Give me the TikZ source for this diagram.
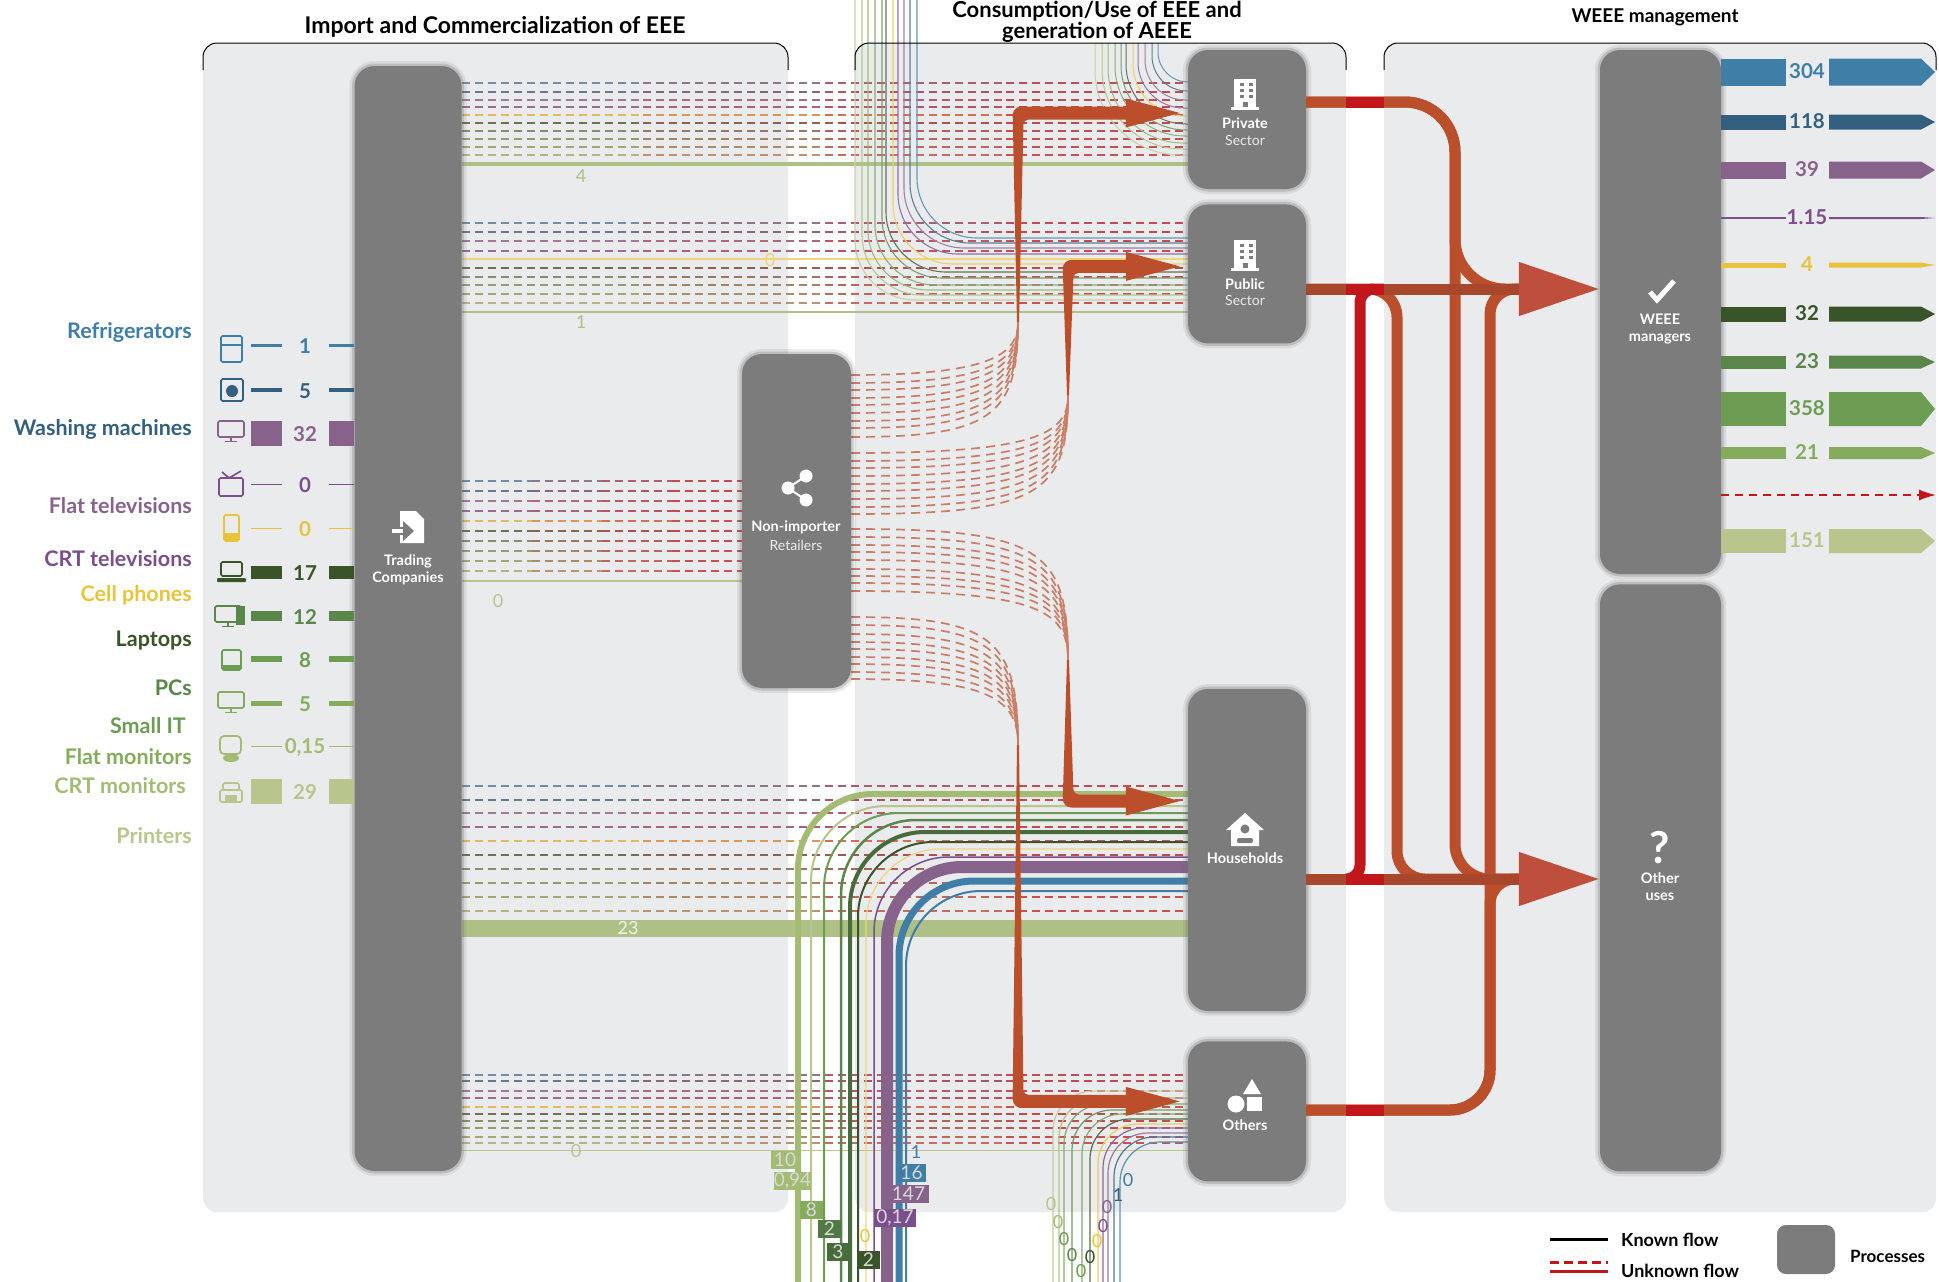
\documentclass[tikz,border=0pt]{standalone}
\usepackage{fontspec}
\setmainfont{Lato}
\usetikzlibrary{arrows.meta, calc, positioning}
\pgfdeclarelayer{panels}
\pgfdeclarelayer{flows}
\pgfsetlayers{panels,flows,main}

\definecolor{colFridge}{HTML}{3F7EA6}
\definecolor{colWasher}{HTML}{33607F}
\definecolor{colFlatTV}{HTML}{87638C}
\definecolor{colCrtTV}{HTML}{7B4F8B}
\definecolor{colCell}{HTML}{E9C33B}
\definecolor{colLaptop}{HTML}{3A5429}
\definecolor{colPC}{HTML}{5A864B}
\definecolor{colSmall}{HTML}{6C9D52}
\definecolor{colFlatMon}{HTML}{85AC5C}
\definecolor{colCrtMon}{HTML}{A3BB72}
\definecolor{colPrinter}{HTML}{B8C68D}
\definecolor{panelGrey}{HTML}{EAEBED}
\definecolor{boxGrey}{HTML}{7C7C7C}
\definecolor{flowRed}{HTML}{C0161C}
\definecolor{flowOrange}{HTML}{BB4F2C}
\definecolor{flowDark}{HTML}{A8472C}
\definecolor{headRed}{HTML}{BE4F3C}

\tikzset{
  panel/.style={rectangle, fill=panelGrey, rounded corners=14pt, anchor=north west, inner sep=0pt},
  process/.style={rectangle, fill=boxGrey, rounded corners=20pt, inner sep=0pt, minimum width=118pt,
    preaction={draw=black!60, opacity=.12, line width=10pt},
    preaction={draw=black!60, opacity=.25, line width=5pt}},
  title/.style={font=\fontsize{22}{18}\selectfont\bfseries, align=center, inner sep=0pt},
  proclab/.style={font=\fontsize{14.5}{17}\selectfont\bfseries, text=white, align=center, inner sep=0pt},
  procsub/.style={font=\fontsize{14}{17}\selectfont, text=white!85!boxGrey, inner sep=0pt},
  product/.style={font=\fontsize{21.5}{22}\selectfont\bfseries, anchor=east, inner sep=0pt},
  value/.style={font=\fontsize{20.5}{22}\selectfont\bfseries, inner sep=0pt},
  smallval/.style={font=\fontsize{18}{20}\selectfont, inner sep=0pt},
  tag/.style={font=\fontsize{19}{20}\selectfont, text=white!85!black, minimum height=18pt, inner sep=0pt},
  legendtxt/.style={font=\fontsize{18}{20}\selectfont\bfseries, anchor=west, inner sep=0pt},
  dashline/.style={line width=1.6pt, dash pattern=on 8pt off 5pt},
  retail/.style={line width=1.7pt, dash pattern=on 9pt off 6pt, draw=flowOrange!70!panelGrey},
  mainflow/.style={line width=11pt, draw=flowOrange},
  bighead/.style={-{Triangle[length=81pt, width=51pt, color=headRed]}},
  icon/.style={line width=1.7pt, rounded corners=1.5pt},
}

% dashed flow, going from product colour to red
\newcommand{\dashflow}[4]{
  \foreach \fa/\fb/\fm in {0/.25/85,.25/.5/60,.5/.75/32,.75/1/10}
    \draw[dashline, draw=#4!\fm!flowRed!78!panelGrey] ($(#2.east |- 0,#1)!\fa!(#3.west |- 0,#1)$) -- ($(#2.east |- 0,#1)!\fb!(#3.west |- 0,#1)$);
}
% input row on the left: name, y, thickness, colour, value
\newcommand{\inrow}[5]{
  \coordinate (#1) at (251,#2);
  \draw[#4, line width=#3pt] (#1) -- ++(31,0);
  \draw[#4, line width=#3pt] (329,#2) -- (trading.west |- 0,#2);
  \node[value, text=#4] (#1val) at (305,#2+1) {#5};
}
% output row on the right: name, y, thickness, colour, value
\newcommand{\outrow}[5]{
  \coordinate (#1) at (1786,#2);
  \coordinate (#1tip) at (1935,#2);
  \fill[#4] (weee.east |- 0,#2-#3/2) rectangle (1786,#2+#3/2);
  \fill[#4] (1829,#2-#3/2) -- (1921,#2-#3/2) -- (#1tip) -- (1921,#2+#3/2) -- (1829,#2+#3/2) -- cycle;
  \node[value, text=#4] (#1val) at (1807,#2-1) {#5};
}
% tapered arrow: foot of the stem, tip, +1 going up or -1 going down
\newcommand{\stemflow}[3]{
  \fill[flowOrange] ($(#1)+(-1,0)$) [rounded corners=9pt] -- ($(#1 |- #2)+(-5.5,{-6.5*#3})$) [sharp corners] -- ($(#2)+(-54,{-6.5*#3})$)
    -- ($(#2)+(-54,{-14.5*#3})$) -- (#2) -- ($(#2)+(-54,{14.5*#3})$) -- ($(#2)+(-54,{6.5*#3})$) [rounded corners=5pt]
    -- ($(#1 |- #2)+(5.5,{6.5*#3})$) [sharp corners] -- ($(#1)+(1,0)$) -- cycle;
}
\newcommand{\iconmonitor}[2]{
  \begin{scope}[shift={(#1)}]
    \draw[icon, #2] (-13,-10) rectangle (13,6);
    \draw[#2, line width=1.7pt] (0,6) -- (0,10) (-6,10.5) -- (6,10.5);
  \end{scope}
}
\newcommand{\iconbuilding}[1]{
  \begin{scope}[shift={(#1)}]
    \fill[white] (-11,-16) rectangle (11,12);
    \fill[white] (-14,12) rectangle (14,15);
    \foreach \ix in {-5,4} \foreach \iy in {-12,-6,0}
      \fill[boxGrey] (\ix,\iy) rectangle ++(4,3);
    \fill[boxGrey] (-2.5,7) rectangle (2.5,12);
  \end{scope}
}

\begin{document}
\begin{tikzpicture}[x=1pt, y=-1pt]
  \useasboundingbox (0,0) rectangle (1939,1282);

  % panels
  \begin{pgfonlayer}{panels}
    \node[panel, minimum width=585pt, minimum height=1169pt] (panelA) at (203,43) {};
    \node[panel, minimum width=491pt, minimum height=1169pt] (panelB) at (855,43) {};
    \node[panel, minimum width=552pt, minimum height=1169pt] (panelC) at (1384,43) {};
  \end{pgfonlayer}
  \draw[line width=1pt, rounded corners=14pt] (203,70) -- (203,43) -- (788,43) -- (788,70);
  \draw[line width=1pt, rounded corners=14pt] (855,70) -- (855,43) -- (1346,43) -- (1346,70);
  \draw[line width=1pt, rounded corners=14pt] (1384,70) -- (1384,43) -- (1936,43) -- (1936,70);

  \node[title, font=\fontsize{23}{18}\selectfont\bfseries] (titleA) at (495,27) {Import and Commercialization of EEE};
  \node[title] (titleB) at (1097,22) {Consumption/Use of EEE and\\generation of AEEE};
  \node[title, font=\fontsize{19}{20}\selectfont\bfseries] (titleC) at (1655,17) {WEEE management};

  % processes
  \node[process, minimum width=107pt, minimum height=1105pt] (trading) at (408,618.5) {};
  \node[process, minimum width=109pt, minimum height=334pt] (retailers) at (796.5,521) {};
  \node[process, minimum height=139pt] (private) at (1247,119.5) {};
  \node[process, minimum height=139pt, below=15pt of private] (public) {};
  \node[process, minimum height=322pt] (households) at (1247,850) {};
  \node[process, minimum height=140pt, below=30pt of households] (others) {};
  \node[process, minimum width=121pt, minimum height=524pt] (weee) at (1660.5,312) {};
  \node[process, minimum width=121pt, minimum height=587pt, below=10pt of weee] (otheruses) {};

  \node[proclab] (tradinglab) at (408,570) {Trading\\Companies};
  \node[proclab] (retailerslab) at (796,527) {Non-importer};
  \node[procsub, below=6pt of retailerslab] (retailerssub) {Retailers};
  \node[proclab] (privatelab) at (1245,123) {Private};
  \node[procsub] (privatesub) at (1245,140) {Sector};
  \node[proclab] (publiclab) at (1245,284) {Public};
  \node[procsub] (publicsub) at (1245,300) {Sector};
  \node[proclab] (householdslab) at (1245,858) {Households};
  \node[proclab] (otherslab) at (1245,1125) {Others};
  \node[proclab] (weeelab) at (1660,329) {WEEE\\managers};
  \node[proclab] (otheruseslab) at (1660,887) {Other\\uses};

  % white icons on the processes
  \fill[white] (400,511) -- (416,511) -- (424,519) -- (424,543) -- (400,543) -- cycle;
  \fill[boxGrey] (403,521) -- (414,531) -- (403,541) -- cycle;
  \fill[boxGrey] (399,527) rectangle (404,535);
  \draw[white, line width=3.5pt] (392,531) -- (403,531);
  \draw[white, line width=2pt] (806,476) -- (788,488) -- (806,500);
  \fill[white] (788,488) circle (6.5) (806,476) circle (6.5) (806,500) circle (6.5);
  \iconbuilding{1245,95}
  \iconbuilding{1245,256}
  \fill[white] (1245,813) -- (1264,830) -- (1259,830) -- (1259,846) -- (1231,846) -- (1231,830) -- (1226,830) -- cycle;
  \fill[boxGrey] (1245,829) circle (4.5);
  \fill[boxGrey, rounded corners=2pt] (1237,843) -- (1237,838) -- (1253,838) -- (1253,843) -- cycle;
  \fill[white] (1252,1079) -- (1261,1094) -- (1243,1094) -- cycle;
  \fill[white] (1236,1104) circle (8.5);
  \fill[white] (1247,1097) rectangle (1262,1111);
  \draw[white, line width=5pt] (1650,292) -- (1657,300) -- (1674,281);
  \node[font=\fontsize{44}{44}\selectfont\bfseries, text=white, inner sep=0pt] (qmark) at (1660,848) {?};

  % flows from the trading companies
  \begin{pgfonlayer}{flows}
    \foreach \y/\c in {83/colFridge,92/colWasher,100/colFlatTV,107/colCrtTV,115/colCell,123/colLaptop,131/colPC,139/colSmall,147/colFlatMon,155/colCrtMon}
      {\dashflow{\y}{trading}{private}{\c}}
    \foreach \y/\c in {223/colFridge,232/colWasher,241/colFlatTV,251/colCrtTV,268/colLaptop,277/colPC,285/colSmall,294/colFlatMon,303/colCrtMon}
      {\dashflow{\y}{trading}{public}{\c}}
    \foreach \y/\c in {481/colFridge,491/colWasher,501/colFlatTV,511/colCrtTV,521/colCell,531/colLaptop,541/colPC,551/colSmall,561/colFlatMon,571/colCrtMon}
      {\dashflow{\y}{trading}{retailers}{\c}}
    \foreach \y/\c in {786/colFridge,800/colWasher,813/colFlatTV,827/colCrtTV,841/colCell,855/colLaptop,869/colPC,883/colSmall,897/colFlatMon,911/colCrtMon}
      {\dashflow{\y}{trading}{households}{\c}}
    \foreach \y/\c in {1075/colFridge,1081/colWasher,1091/colFlatTV,1098/colCrtTV,1107/colCell,1114/colLaptop,1121/colPC,1128/colSmall,1137/colFlatMon,1143/colCrtMon}
      {\dashflow{\y}{trading}{others}{\c}}

    \draw[colPrinter!90!colPC, line width=4pt] (trading.east |- 0,164) -- (private.west |- 0,164);
    \draw[colPrinter!90!colPC, line width=2pt] (trading.east |- 0,312) -- (public.west |- 0,312);
    \draw[colCell!70!white, line width=2pt] (trading.east |- 0,259) -- (public.west |- 0,259);
    \draw[colPrinter, line width=1.5pt] (trading.east |- 0,581) -- (retailers.west |- 0,581);
    \draw[colPrinter!90!colPC, line width=17pt] (trading.east |- 0,928) -- (households.west |- 0,928);
    \draw[colPrinter, line width=1pt] (trading.east |- 0,1150) -- (others.west |- 0,1150);

    % flows coming from the top edge
    \foreach \x/\y/\c in {855/300/colPrinter,862/295/colCrtMon,868/290/colFlatMon,875/285/colSmall,882/278/colPC,886/272/colLaptop,893/264/colCell,898/254/colCrtTV,904/248/colFlatTV,910/243/colWasher,917/238/colFridge}{
      \coordinate (top\x) at (\x,0);
      \draw[\c!80!white, line width=1.1pt, rounded corners=60pt] (top\x) |- (public.west |- 0,\y);
    }
    \foreach \x/\y/\c/\r in {1095/155/colPrinter/85,1102/149/colCrtMon/80,1108/143/colFlatMon/75,1115/136/colSmall/70,1121/130/colPC/65,1126/124/colLaptop/60,1133/116/colCell/52,1138/108/colCrtTV/46,1145/100/colFlatTV/40,1152/91/colWasher/35,1158/82/colFridge/30}{
      \coordinate (priv\x) at (\x,43);
      \draw[\c!80!white, line width=1pt, rounded corners=\r pt] (priv\x) |- (private.west |- 0,\y);
    }
    % flows coming from the bottom edge
    \foreach \x/\y/\c/\w in {798/794/colCrtMon/6,811/806/colPrinter/2,824/813/colSmall/2,841/820/colPC/2.5,850/832/colPC!80!black/4,858/842/colLaptop/2,866/849/colCell!70!white/1.2,874/857/colCrtTV/1.5,887/867/colFlatTV/12,899/881/colFridge/7,906/891/colFridge/2}{
      \coordinate (bot\x) at (\x,1282);
      \draw[\c, line width=\w pt, rounded corners=75pt] (bot\x) |- (households.west |- 0,\y);
    }
    \foreach \x/\y/\c in {1053/1091/colPrinter,1059/1098/colCrtMon,1064/1104/colSmall,1072/1110/colPC,1082/1114/colSmall,1090/1119/colLaptop,1098/1124/colCell,1103/1128/colCrtTV,1108/1133/colFlatTV,1114/1137/colWasher,1120/1142/colFridge}{
      \coordinate (oth\x) at (\x,1282);
      \draw[\c!85!white, line width=1.2pt, rounded corners=40pt] (oth\x) |- (others.west |- 0,\y);
    }

    % flows out of the retailers
    \coordinate (privFoot) at (1018,322);
    \coordinate (pubFoot) at (1068,395);
    \coordinate (hhFoot) at (1068,660);
    \coordinate (othFoot) at (1018,745);
    \foreach \y in {375,383,390,398,405,413,421,428,437}
      \draw[retail] (retailers.east |- 0,\y) .. controls (990,\y) and (1018,\y-20) .. (privFoot);
    \foreach \y in {453,461,468,476,484,491,499,507,514}
      \draw[retail] (retailers.east |- 0,\y) .. controls (1040,\y) and (1068,\y-20) .. (pubFoot);
    \foreach \y in {529,537,545,552,560,569,576,583,591}
      \draw[retail] (retailers.east |- 0,\y) .. controls (1040,\y) and (1068,\y+20) .. (hhFoot);
    \foreach \y in {617,625,634,642,649,657,664,672,679}
      \draw[retail] (retailers.east |- 0,\y) .. controls (990,\y) and (1018,\y+20) .. (othFoot);
  \end{pgfonlayer}

  \node[smallval, text=colPrinter!90!colPC] (val4) at (581,176) {4};
  \node[smallval, text=colPrinter!90!colPC] (val1) at (581,322) {1};
  \node[smallval, text=colCell!70!white] (val0a) at (770,260) {0};
  \node[smallval, text=colPrinter] (val0b) at (498,601) {0};
  \node[smallval, text=white!85!colPrinter] (val23) at (628,928) {23};
  \node[smallval, text=colPrinter] (val0c) at (576,1151) {0};

  % arrows into the consumers
  \coordinate (privTip) at ($(private.west)+(-8,-6.5)$);
  \coordinate (pubTip) at ($(public.west)+(-8,-7.5)$);
  \coordinate (hhTip) at ($(households.west)+(-8,-49)$);
  \coordinate (othTip) at ($(others.west)+(-8,-10)$);
  \stemflow{privFoot}{privTip}{1}
  \stemflow{pubFoot}{pubTip}{1}
  \stemflow{hhFoot}{hhTip}{-1}
  \stemflow{othFoot}{othTip}{-1}

  % flows to the WEEE managers and other uses
  \coordinate (weeeJoin) at (1530,289);
  \coordinate (otherJoin) at (1530,879);
  \draw[mainflow, rounded corners=50pt] (private.east |- 0,102) -- (1455,102) -- (1455,289) -- (weeeJoin);
  \draw[mainflow, rounded corners=50pt] (private.east |- 0,102) -- (1455,102) [rounded corners=35pt] -- (1455,879) -- (otherJoin);
  \draw[mainflow, rounded corners=28pt] (public.east |- 0,289) -- (1397,289) -- (1397,879) -- (otherJoin);
  \draw[mainflow, rounded corners=40pt] (others.east |- 0,1110) -- (1490,1110) [rounded corners=25pt] -- (1490,289) -- (weeeJoin);
  \draw[mainflow, rounded corners=40pt] (others.east |- 0,1110) -- (1490,1110) [rounded corners=25pt] -- (1490,879) -- (otherJoin);
  \draw[mainflow, draw=flowRed, rounded corners=14pt] (panelB.east |- 0,879) -- (1360,879) -- (1360,289) -- (panelC.west |- 0,289);
  \draw[mainflow, draw=flowDark, bighead] (public.east |- 0,289) -- (weee.west |- 0,289);
  \draw[mainflow, draw=flowDark, bighead] (households.east |- 0,879) -- (otheruses.west |- 0,879);
  \foreach \y in {102,289,879,1110}
    \draw[mainflow, draw=flowRed] (panelB.east |- 0,\y) -- (panelC.west |- 0,\y);

  % inputs on the left
  \foreach \t/\y/\c/\xe in {Refrigerators/332/colFridge/192, Washing machines/429/colWasher/192, Flat televisions/506/colFlatTV/192, CRT televisions/559/colCrtTV/192, Cell phones/595/colCell/192, Laptops/641/colLaptop/192, PCs/688/colPC/192, Small IT/726/colSmall/186, Flat monitors/757/colFlatMon/192, CRT monitors/786/colCrtMon/186, Printers/836/colPrinter/192}
    \node[product, text=\c] (name\y) at (\xe,\y) {\t};

  \inrow{fridge}{345}{3}{colFridge}{1}
  \inrow{washer}{390}{4}{colWasher}{5}
  \inrow{flattv}{433}{25}{colFlatTV}{32}
  \inrow{crttv}{484}{1}{colCrtTV}{0}
  \inrow{cell}{528}{1}{colCell}{0}
  \inrow{laptop}{572}{13}{colLaptop}{17}
  \inrow{pc}{616}{10}{colPC}{12}
  \inrow{smallit}{659}{6}{colSmall}{8}
  \inrow{flatmon}{703}{5}{colFlatMon}{5}
  \inrow{crtmon}{746}{1}{colCrtMon}{0,15}
  \inrow{printer}{791}{25}{colPrinter}{29}

  % product icons
  \draw[icon, colFridge] (221,336) rectangle (242,362) (221,345) -- (242,345);
  \draw[icon, colWasher] (221,379) rectangle (243,401);
  \fill[colWasher] (232,391) circle (6);
  \iconmonitor{231,431}{colFlatTV}
  \draw[icon, colCrtTV] (219,478) rectangle (243,496);
  \draw[colCrtTV, line width=1.7pt] (222,472) -- (229,478) -- (241,471);
  \draw[icon, colCell] (224,515) rectangle (239,541);
  \fill[colCell] (224,533) rectangle (239,541);
  \draw[icon, colLaptop] (221,562) rectangle (242,576);
  \fill[colLaptop, rounded corners=1pt] (217,578) rectangle (246,582);
  \iconmonitor{228,616}{colPC}
  \fill[colPC] (236,606) rectangle (245,625);
  \draw[icon, colSmall] (222,650) rectangle (241,670);
  \fill[colSmall] (222,665) rectangle (241,670);
  \iconmonitor{231,702}{colFlatMon}
  \draw[icon, colCrtMon, rounded corners=4pt] (220,736) rectangle (241,754);
  \fill[colCrtMon] (231,758) ellipse (8 and 4);
  \draw[icon, colPrinter] (223,783) rectangle (239,790) (220,790) rectangle (242,802);
  \fill[colPrinter] (225,795) rectangle (237,802);

  % outputs on the right
  \outrow{outa}{72}{27}{colFridge}{304}
  \outrow{outb}{122}{15}{colWasher}{118}
  \outrow{outc}{170}{17}{colFlatTV}{39}
  \outrow{outd}{218}{2}{colCrtTV}{1.15}
  \outrow{oute}{265}{5}{colCell}{4}
  \outrow{outf}{314}{15}{colLaptop}{32}
  \outrow{outg}{362}{13}{colPC}{23}
  \outrow{outh}{409}{34}{colSmall}{358}
  \outrow{outi}{453}{12}{colFlatMon}{21}
  \outrow{outj}{541}{24}{colPrinter}{151}
  \coordinate (outkEnd) at (1936,495);
  \draw[flowRed, line width=1.6pt, dash pattern=on 8pt off 6pt, -{Latex[length=17pt, width=11pt]}] (weee.east |- 0,495) -- (outkEnd);

  % bottom values
  \node[tag, fill=colCrtMon, minimum width=28pt] (tag10) at (785,1160) {10};
  \node[tag, fill=colCrtMon, minimum width=37pt] (tag094) at (792.5,1181) {0,94};
  \node[tag, fill=colFlatMon, minimum width=23pt] (tag8) at (811.5,1210) {8};
  \node[tag, fill=colPC!90!black, minimum width=23pt] (tag2a) at (829.5,1229) {2};
  \node[tag, fill=colPC!80!black, minimum width=22pt] (tag3) at (838,1252) {3};
  \node[tag, fill=colLaptop, minimum width=23pt] (tag2b) at (868.5,1260) {2};
  \node[tag, fill=colCrtTV, minimum width=42pt] (tag017) at (895,1218) {0,17};
  \node[tag, fill=colFlatTV, minimum width=41pt] (tag147) at (908.5,1194) {147};
  \node[tag, fill=colFridge, minimum width=29pt] (tag16) at (911.5,1173) {16};
  \node[smallval, text=colCell] (bot0) at (865,1236) {0};
  \node[smallval, text=colFridge] (bot1) at (916,1152) {1};
  \foreach \x/\y/\c/\t in {1051/1204/colPrinter/0,1058/1222/colCrtMon/0,1064/1239/colSmall/0,1072/1255/colPC/0,1081/1271/colSmall/0,1090/1257/colLaptop/0,1097/1241/colCell/0,1103/1226/colCrtTV/0,1107/1207/colFlatTV/0,1118/1195/colWasher/1,1128/1180/colFridge/0}
    \node[smallval, text=\c] (zero\x) at (\x,\y) {\t};

  % legend
  \coordinate (knownA) at (1550,1239);
  \coordinate (knownB) at (1608,1239);
  \coordinate (dashA) at (1550,1262);
  \coordinate (dashB) at (1608,1262);
  \coordinate (redA) at (1550,1271);
  \coordinate (redB) at (1608,1271);
  \draw[line width=3pt] (knownA) -- (knownB);
  \draw[flowRed, line width=3pt, dash pattern=on 9pt off 5pt] (dashA) -- (dashB);
  \draw[flowRed, line width=3pt] (redA) -- (redB);
  \node[legendtxt] (known) at (1621,1240) {Known flow};
  \node[legendtxt] (unknown) at (1621,1271) {Unknown flow};
  \node[rectangle, fill=boxGrey, rounded corners=9pt, minimum width=58pt, minimum height=49pt, inner sep=0pt] (legendbox) at (1806,1249.5) {};
  \node[legendtxt, font=\fontsize{17}{20}\selectfont\bfseries] (processes) at (1850,1256) {Processes};
\end{tikzpicture}
\end{document}
